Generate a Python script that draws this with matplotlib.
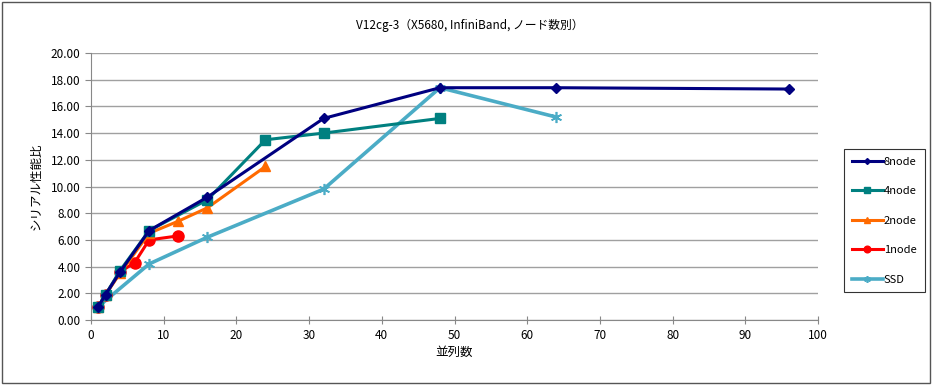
import matplotlib
matplotlib.use('Agg')
import matplotlib.pyplot as plt
from matplotlib.patches import Rectangle

plt.rcParams['font.family'] = ['Noto Sans CJK JP', 'DejaVu Sans']

# parallel count vs. speed-up over serial run
x_8node = [1, 2, 4, 8, 16, 32, 48, 64, 96]
y_8node = [1.0, 1.9, 3.6, 6.7, 9.2, 15.1, 17.4, 17.4, 17.3]

x_4node = [1, 2, 4, 8, 16, 24, 32, 48]
y_4node = [1.0, 1.9, 3.7, 6.7, 9.0, 13.5, 14.0, 15.1]

x_2node = [1, 2, 4, 8, 12, 16, 24]
y_2node = [1.0, 1.9, 3.5, 6.5, 7.4, 8.4, 11.5]

x_1node = [1, 2, 4, 6, 8, 12]
y_1node = [1.0, 1.9, 3.6, 4.3, 6.0, 6.3]

x_ssd = [1, 8, 16, 32, 48, 64]
y_ssd = [1.0, 4.2, 6.2, 9.8, 17.4, 15.2]

fig = plt.figure(figsize=(9.32, 3.85), dpi=100)
ax = fig.add_axes([91 / 932, 65 / 385, 727 / 932, 267 / 385])

ax.plot(x_8node, y_8node, color='#000080', lw=2.2, marker='D', ms=5, label='8node', zorder=5)
ax.plot(x_4node, y_4node, color='#008080', lw=2.2, marker='s', ms=7, label='4node', zorder=4)
ax.plot(x_2node, y_2node, color='#FF6A00', lw=2.2, marker='^', ms=7, label='2node', zorder=3)
ax.plot(x_1node, y_1node, color='#FF0000', lw=2.2, marker='o', ms=8, label='1node', zorder=2)
ax.plot(x_ssd, y_ssd, color='#4BACC6', lw=2.6, marker=(6, 2, 0), ms=8, mew=1.2,
        label='SSD', zorder=1)

ax.set_xlim(0, 100)
ax.set_ylim(0, 20)
ax.set_xticks(range(0, 101, 10))
ax.set_yticks(range(0, 21, 2))
ax.set_yticklabels(['%.2f' % v for v in range(0, 21, 2)])
ax.tick_params(labelsize=8.5, length=4, color='#888888')
ax.tick_params(axis='x', direction='inout', length=6)
ax.grid(axis='y', color='#a0a0a0', lw=1)
ax.set_axisbelow(True)
for side in ['top', 'right']:
    ax.spines[side].set_visible(False)
for side in ['left', 'bottom']:
    ax.spines[side].set_color('#888888')

ax.set_xlabel('並列数', fontsize=9, labelpad=3)
ax.set_ylabel('シリアル性能比', fontsize=9, labelpad=6)
fig.text(470 / 932, 1 - 25 / 385, 'V12cg-3（X5680, InfiniBand, ノード数別）',
         ha='center', va='center', fontsize=8.5)

leg = fig.legend(loc='upper left', bbox_to_anchor=(844 / 932, 1 - 149 / 385),
                 fontsize=8, frameon=True, fancybox=False, handlelength=2.8,
                 labelspacing=1.75, borderpad=0.7, handletextpad=0.1,
                 borderaxespad=0, markerscale=0.6)
leg.get_frame().set_edgecolor('black')
leg.get_frame().set_linewidth(0.8)

# chart area border
fig.patches.append(Rectangle((2 / 932, 2 / 385), 928 / 932, 381 / 385,
                             transform=fig.transFigure, fill=False,
                             edgecolor='#555555', lw=1))

fig.savefig('out.png', dpi=100)
